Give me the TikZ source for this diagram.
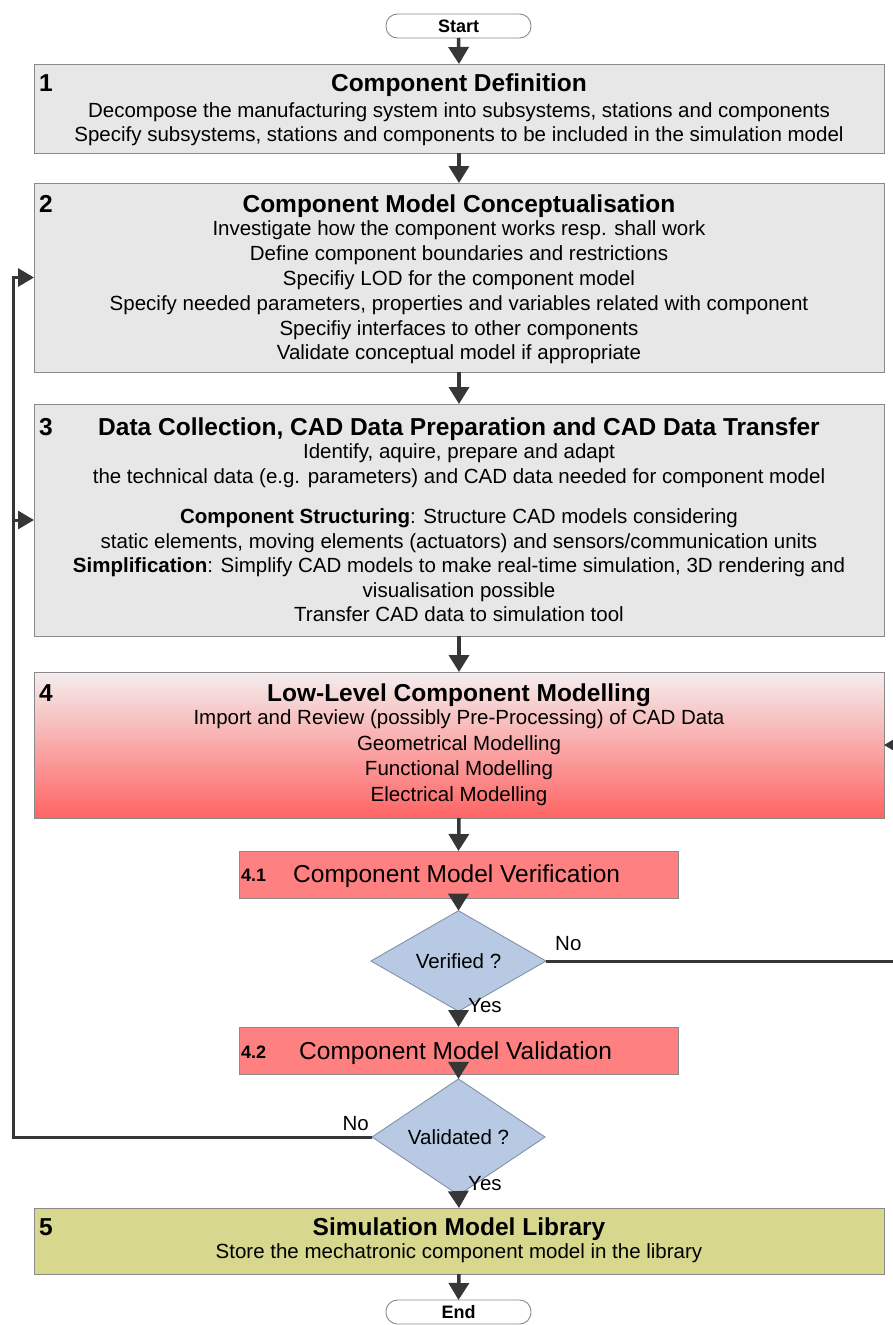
\documentclass[tikz,border=0pt]{standalone}
\usepackage{fontspec}
\setmainfont{Liberation Sans}
\usetikzlibrary{shapes.geometric,arrows.meta}
\definecolor{boxgray}{HTML}{E7E7E7}
\definecolor{edgegray}{HTML}{8A8A8A}
\definecolor{arrowc}{HTML}{363636}
\definecolor{redtop}{HTML}{F4EEEE}
\definecolor{redbot}{HTML}{FF6464}
\definecolor{redbox}{HTML}{FF8080}
\definecolor{diafill}{HTML}{B8CAE3}
\definecolor{diaedge}{HTML}{8391A8}
\definecolor{olivebox}{HTML}{D7D78E}
\begin{document}
\begin{tikzpicture}[x=1pt,y=-1pt,
  box/.style={draw=edgegray,line width=0.9pt,rectangle,inner sep=0pt,outer sep=0pt,minimum width=850pt},
  graybox/.style={box,fill=boxgray},
  title/.style={font=\fontsize{24.5}{29}\selectfont\bfseries,anchor=base,inner sep=0pt},
  num/.style={font=\fontsize{24.5}{29}\selectfont\bfseries,anchor=base west,inner sep=0pt},
  body/.style={font=\fontsize{20.5}{24.6}\selectfont,align=center,inner sep=0pt},
  flow/.style={draw=arrowc,line width=3.5pt,-{Triangle[width=20pt,length=17pt]}},
  loop/.style={draw=arrowc,line width=3pt,-{Triangle[width=18pt,length=16pt]}},
  term/.style={draw=edgegray,line width=0.9pt,rounded corners=11.5pt,fill=white,minimum width=145pt,minimum height=24pt,inner sep=0pt,outer sep=0pt,font=\fontsize{18}{21}\selectfont\bfseries},
  subbox/.style={box,fill=redbox,minimum width=439pt,minimum height=47pt},
  decision/.style={diamond,draw=diaedge,line width=0.9pt,fill=diafill,inner sep=0pt,outer sep=0pt,font=\fontsize{20.5}{24}\selectfont},
  lbl/.style={font=\fontsize{20.5}{24}\selectfont,inner sep=0pt},
  subnum/.style={font=\fontsize{18}{21}\selectfont\bfseries,anchor=base west,inner sep=0pt},
  subtitle/.style={font=\fontsize{24.5}{29}\selectfont,anchor=base west,inner sep=0pt}
]
\clip (0,0) rectangle (893,1325);
\fill[white] (0,0) rectangle (893,1325);

% terminals
\node[term] (start) at (458.5,26) {Start};
\node[term] (end) at (458.5,1312) {End};

% box 1
\node[graybox,minimum height=89pt] (b1) at (459,108.5) {};
\node[num] (n1) at (39,91) {1};
\node[title] (t1) at (459,91) {Component Definition};
\node[body] (d1) at (459,124.5) {\strut Decompose the manufacturing system into subsystems, stations and components\\\strut Specify subsystems, stations and components to be included in the simulation model};

% box 2
\node[graybox,minimum height=189pt] (b2) at (459,277.5) {};
\node[num] (n2) at (39,212) {2};
\node[title] (t2) at (459,212) {Component Model Conceptualisation};
\node[body,font=\fontsize{20.5}{24.8}\selectfont] (d2) at (459,293) {\strut Investigate how the component works resp. shall work\\\strut Define component boundaries and restrictions\\\strut Specifiy LOD for the component model\\\strut Specify needed parameters, properties and variables related with component\\\strut Specifiy interfaces to other components\\\strut Validate conceptual model if appropriate};

% box 3
\node[graybox,minimum height=232pt] (b3) at (459,520) {};
\node[num] (n3) at (39,435) {3};
\node[title] (t3) at (459,435) {Data Collection, CAD Data Preparation and CAD Data Transfer};
\node[body,font=\fontsize{20.5}{25}\selectfont] (d3a) at (459,466) {\strut Identify, aquire, prepare and adapt\\\strut the technical data (e.g. parameters) and CAD data needed for component model};
\node[body,font=\fontsize{20.5}{24.5}\selectfont] (d3b) at (459,568) {\strut\textbf{Component Structuring}: Structure CAD models considering\\\strut static elements, moving elements (actuators) and sensors/communication units\\\strut\textbf{Simplification}: Simplify CAD models to make real-time simulation, 3D rendering and\\\strut visualisation possible\\\strut Transfer CAD data to simulation tool};

% box 4
\node[box,minimum height=146pt,top color=redtop,bottom color=redbot] (b4) at (459,745) {};
\node[num] (n4) at (39,701) {4};
\node[title] (t4) at (459,701) {Low-Level Component Modelling};
\node[body,font=\fontsize{20.5}{25.5}\selectfont] (d4) at (459,758) {\strut Import and Review (possibly Pre-Processing) of CAD Data\\\strut Geometrical Modelling\\\strut Functional Modelling\\\strut Electrical Modelling};

% 4.1
\node[subbox] (v41) at (458.5,874.5) {};
\node[subnum] (n41) at (241,881) {4.1};
\node[subtitle] (t41) at (293,882) {Component Model Verification};

% verified decision
\node[decision,minimum width=175pt,minimum height=72pt] (dv) at (458.5,961) {Verified ?};

% 4.2
\node[subbox] (v42) at (458.5,1050.5) {};
\node[subnum] (n42) at (241,1058) {4.2};
\node[subtitle] (t42) at (299,1059) {Component Model Validation};

% validated decision
\node[decision,minimum width=173pt,minimum height=72pt] (dl) at (458.5,1137) {Validated ?};

% box 5
\node[box,fill=olivebox,minimum height=66pt] (b5) at (459,1241) {};
\node[num] (n5) at (39,1235) {5};
\node[title] (t5) at (459,1235) {Simulation Model Library};
\node[body] (d5) at (459,1254) {\strut Store the mechatronic component model in the library};

% labels
\node[lbl,anchor=base west] (noV) at (555,950) {No};
\node[lbl,anchor=base west] (yesV) at (468,1012) {Yes};
\node[lbl,anchor=base east] (noL) at (369,1130) {No};
\node[lbl,anchor=base west] (yesL) at (468,1190) {Yes};

% main flow
\draw[flow] (start.south) -- (b1.north);
\draw[flow] (b1.south) -- (b2.north);
\draw[flow] (b2.south) -- (b3.north);
\draw[flow] (b3.south) -- (b4.north);
\draw[flow] (b4.south) -- (v41.north);
\draw[flow] (v41.south) -- (dv.north);
\draw[flow] (dv.south) -- (v42.north);
\draw[flow] (v42.south) -- (dl.north);
\draw[flow] (dl.south) -- (b5.north);
\draw[flow] (b5.south) -- (end.north);

% loops
\coordinate (lc) at (13,1137);
\coordinate (lb3) at (13,520);
\coordinate (rc) at (905,961);
\draw[loop] (dl.west) -- (lc) |- (b2.west);
\draw[loop] (lb3) -- (b3.west);
\draw[loop] (dv.east) -- (rc) |- (b4.east);
\end{tikzpicture}
\end{document}
